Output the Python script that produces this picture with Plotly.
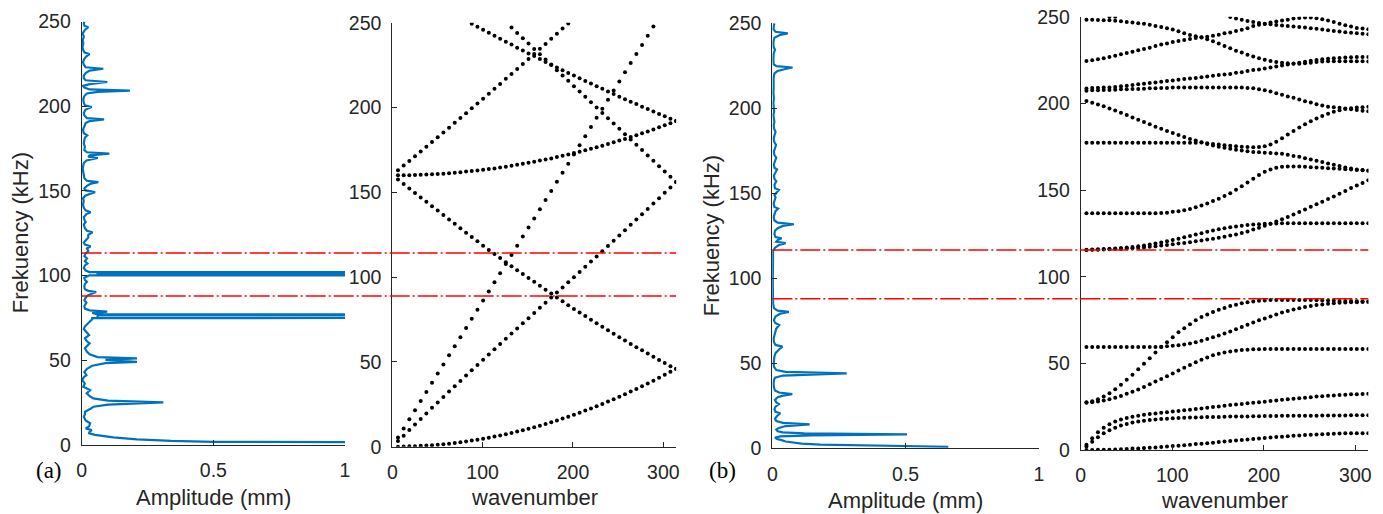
import plotly.graph_objects as go

# ---------------- response spectra (frequency in kHz, amplitude in mm) ----------------
FREQ_A = [1.3, 1.6, 1.9, 2.4, 3.3, 4.5, 5.3, 6.0, 6.9, 7.8, 8.8, 9.8, 11.0, 12.8, 14.5, 16.7,
          18.0, 19.6, 21.5, 22.6, 23.8, 25.2, 26.2, 27.5, 28.8, 30.5, 32.4, 34.4, 36.3, 38.3,
          40.0, 41.2, 43.0, 45.0, 46.8, 48.3, 49.1, 49.9, 50.3, 51.1, 51.9, 53.5, 55.0, 57.1,
          58.5, 60.0, 61.5, 63.0, 64.9, 66.9, 68.5, 69.9, 71.5, 72.8, 74.2, 74.95, 75.1, 75.25,
          76.85, 77.0, 77.15, 77.9, 78.7, 79.5, 80.5, 82.0, 84.0, 85.5, 87.0, 88.5, 89.5, 90.3,
          91.0, 92.0, 93.5, 95.0, 96.3, 97.5, 98.8, 99.6, 100.15, 100.3, 100.45, 101.75, 101.9,
          102.05, 103.0, 104.5, 106.0, 107.1, 108.5, 110.1, 111.5, 113.0, 114.5, 116.0, 117.3,
          118.3, 119.5, 121.0, 122.5, 124.0, 125.6, 126.5, 128.0, 130.0, 131.7, 133.0, 134.5,
          136.3, 137.4, 138.5, 140.0, 142.0, 144.0, 145.5, 147.0, 148.2, 149.3, 150.3, 151.5,
          153.0, 154.3, 155.2, 156.0, 157.5, 159.0, 161.0, 163.0, 165.0, 166.5, 168.0, 169.4,
          170.2, 171.0, 172.0, 172.8, 174.0, 176.0, 178.0, 180.0, 181.5, 182.8, 184.0, 186.0,
          188.0, 190.0, 191.2, 192.2, 193.0, 194.5, 196.0, 198.0, 199.5, 200.5, 202.0, 204.0,
          206.0, 207.5, 208.5, 209.2, 209.9, 211.0, 212.0, 213.0, 214.3, 215.3, 216.5, 218.0,
          219.5, 221.0, 222.1, 223.0, 224.5, 226.0, 228.0, 229.5, 230.7, 231.8, 233.5, 235.0,
          237.0, 239.0, 241.0, 243.0, 245.0, 246.6, 247.5, 248.5, 250.0]
AMP_A = [2.0, 1.0, 0.50, 0.34, 0.21, 0.12, 0.075, 0.050, 0.028, 0.030, 0.038, 0.015, 0.028, 0.032,
         0.015, 0.008, 0.012, 0.013, 0.035, 0.045, 0.100, 0.310, 0.100, 0.044, 0.030, 0.019,
         0.032, 0.006, 0.012, 0.002, 0.008, 0.018, 0.010, 0.020, 0.040, 0.090, 0.210, 0.090,
         0.090, 0.210, 0.060, 0.030, 0.020, 0.012, 0.020, 0.030, 0.018, 0.012, 0.028, 0.015,
         0.008, 0.012, 0.020, 0.030, 0.040, 0.040, 40.0, 0.060, 0.060, 40.0, 0.060, 0.040, 0.097,
         0.030, 0.012, 0.010, 0.018, 0.010, 0.015, 0.025, 0.040, 0.055, 0.025, 0.012, 0.010,
         0.012, 0.020, 0.012, 0.010, 0.020, 0.030, 40.0, 0.060, 0.060, 40.0, 0.030, 0.015, 0.008,
         0.012, 0.022, 0.012, 0.020, 0.010, 0.015, 0.025, 0.020, 0.034, 0.012, 0.008, 0.015,
         0.025, 0.025, 0.041, 0.020, 0.012, 0.008, 0.015, 0.010, 0.008, 0.018, 0.034, 0.015,
         0.008, 0.005, 0.008, 0.005, 0.012, 0.030, 0.051, 0.015, 0.010, 0.020, 0.035, 0.063,
         0.020, 0.010, 0.008, 0.005, 0.004, 0.006, 0.008, 0.018, 0.061, 0.025, 0.030, 0.105,
         0.020, 0.010, 0.012, 0.008, 0.010, 0.012, 0.021, 0.008, 0.005, 0.010, 0.015, 0.030,
         0.085, 0.020, 0.010, 0.008, 0.015, 0.038, 0.012, 0.008, 0.006, 0.010, 0.020, 0.060,
         0.183, 0.030, 0.010, 0.005, 0.030, 0.097, 0.015, 0.008, 0.008, 0.015, 0.030, 0.082,
         0.015, 0.008, 0.005, 0.010, 0.018, 0.030, 0.010, 0.005, 0.003, 0.006, 0.004, 0.008,
         0.004, 0.012, 0.025, 0.010, 0.008, 0.010]

FREQ_B = [0.9, 1.3, 1.7, 2.2, 2.8, 3.4, 4.0, 4.8, 5.5, 6.3, 7.0, 7.6, 8.2, 8.8, 9.4, 10.0, 11.0,
          12.0, 13.1, 14.1, 15.0, 16.0, 17.5, 19.0, 20.6, 21.5, 23.0, 24.5, 26.0, 27.0, 28.5,
          30.0, 31.0, 31.9, 32.8, 34.0, 36.0, 38.0, 40.0, 41.5, 42.8, 44.1, 45.0, 46.0, 48.0,
          50.0, 52.0, 54.0, 56.0, 57.5, 58.8, 59.8, 60.8, 62.5, 64.5, 66.5, 68.5, 70.5, 72.5,
          73.8, 75.5, 77.5, 79.2, 80.2, 81.0, 82.5, 85.0, 88.0, 92.0, 96.0, 100.0, 104.0, 108.0,
          112.0, 116.0, 118.0, 119.6, 120.7, 121.5, 122.5, 123.5, 124.3, 126.0, 128.0, 129.5,
          130.8, 131.8, 132.7, 134.0, 136.0, 138.0, 139.5, 141.0, 142.0, 144.0, 146.0, 147.5,
          149.0, 150.9, 152.0, 153.0, 155.0, 157.0, 158.5, 160.5, 162.0, 164.0, 165.0, 167.0,
          169.0, 171.0, 172.5, 174.5, 176.5, 178.5, 180.0, 182.0, 184.0, 186.0, 188.0, 190.0,
          192.0, 194.0, 196.0, 198.0, 200.0, 203.0, 206.0, 209.0, 212.0, 215.0, 218.0, 220.5,
          222.0, 223.0, 224.0, 224.8, 226.0, 229.0, 232.0, 234.5, 236.0, 239.0, 241.5, 243.2,
          244.1, 245.0, 246.5, 248.5, 250.0]
AMP_B = [0.66, 0.45, 0.30, 0.18, 0.11, 0.075, 0.050, 0.035, 0.018, 0.010, 0.030, 0.150, 0.505,
         0.120, 0.040, 0.020, 0.015, 0.025, 0.050, 0.140, 0.040, 0.015, 0.010, 0.018, 0.030,
         0.012, 0.008, 0.012, 0.025, 0.015, 0.010, 0.020, 0.040, 0.075, 0.025, 0.010, 0.006,
         0.005, 0.006, 0.010, 0.040, 0.279, 0.050, 0.015, 0.006, 0.005, 0.006, 0.008, 0.012,
         0.020, 0.030, 0.038, 0.012, 0.006, 0.005, 0.008, 0.012, 0.015, 0.026, 0.010, 0.006,
         0.012, 0.030, 0.062, 0.020, 0.006, 0.003, 0.002, 0.002, 0.002, 0.002, 0.002, 0.002,
         0.002, 0.003, 0.010, 0.025, 0.050, 0.015, 0.020, 0.035, 0.012, 0.008, 0.010, 0.020,
         0.040, 0.081, 0.020, 0.008, 0.005, 0.008, 0.012, 0.022, 0.008, 0.005, 0.008, 0.012,
         0.008, 0.018, 0.025, 0.010, 0.008, 0.015, 0.008, 0.006, 0.010, 0.018, 0.008, 0.006,
         0.010, 0.015, 0.008, 0.006, 0.010, 0.014, 0.008, 0.005, 0.008, 0.012, 0.007, 0.005,
         0.008, 0.006, 0.004, 0.007, 0.005, 0.004, 0.006, 0.004, 0.005, 0.004, 0.005, 0.008,
         0.020, 0.045, 0.076, 0.015, 0.005, 0.004, 0.005, 0.010, 0.005, 0.004, 0.008, 0.030,
         0.058, 0.012, 0.004, 0.006, 0.008]

# ---------------- dispersion branches, sampled at the wavenumber grid ----------------
WAVENUMBER = [6.28, 12.57, 18.85, 25.13, 31.42, 37.70, 43.98, 50.27, 56.55, 62.83,
              69.12, 75.40, 81.68, 87.96, 94.25, 100.53, 106.81, 113.10, 119.38, 125.66,
              131.95, 138.23, 144.51, 150.80, 157.08, 163.36, 169.65, 175.93, 182.21, 188.50,
              194.78, 201.06, 207.35, 213.63, 219.91, 226.19, 232.48, 238.76, 245.04, 251.33,
              257.61, 263.89, 270.18, 276.46, 282.74, 289.03, 295.31, 301.59, 307.88, 314.16]

# (a) uniform beam
A_FLEX = [0.0, 0.1, 0.2, 0.3, 0.5, 0.7, 0.9, 1.2, 1.5, 1.8, 2.2, 2.6, 3.1, 3.6, 4.1, 4.7, 5.3,
          6.0, 6.6, 7.4, 8.1, 8.9, 9.7, 10.6, 11.5, 12.4, 13.4, 14.4, 15.5, 16.6, 17.7, 18.9,
          20.0, 21.3, 22.5, 23.9, 25.2, 26.6, 28.0, 29.4, 30.9, 32.5, 34.0, 35.6, 37.3, 38.9,
          40.6, 42.4, 44.2, 46.0]
A_FLEX_FOLD = [157.5, 154.9, 152.3, 149.6, 147.0, 144.4, 141.8, 139.2, 136.6, 134.0, 131.4,
               128.8, 126.2, 123.6, 121.1, 118.5, 116.0, 113.6, 111.2, 108.8, 106.4, 104.1,
               101.8, 99.5, 97.2, 94.9, 92.6, 90.3, 88.0, 85.7, 83.4, 81.2, 79.1, 77.0, 74.9,
               72.8, 70.7, 68.6, 66.6, 64.6, 62.6, 60.6, 58.7, 56.8, 54.9, 53.0, 51.1, 49.3,
               47.5, 45.8]
A_LONG = [5.4, 10.8, 16.2, 21.5, 26.9, 32.3, 37.7, 43.1, 48.5, 53.9, 59.2, 64.6, 70.0, 75.4,
          80.8, 86.2, 91.5, 96.9, 102.3, 107.7, 113.1, 118.5, 123.9, 129.2, 134.6, 140.0,
          145.4, 150.8, 156.2, 161.6, 166.9, 172.3, 177.7, 183.1, 188.5, 193.9, 199.2, 204.6,
          210.0, 215.4, 220.8, 226.2, 231.6, 236.9, 242.3, 247.7] + [None] * 4
A_SHEAR = [3.3, 6.5, 9.8, 13.1, 16.4, 19.6, 22.9, 26.1, 29.3, 32.5, 35.7, 38.8, 42.0, 45.1,
           48.2, 51.3, 54.4, 57.5, 60.6, 63.6, 66.7, 69.7, 72.8, 75.8, 78.8, 81.9, 84.9, 87.9,
           90.9, 93.9, 96.9, 99.9, 103.0, 106.1, 109.2, 112.2, 115.3, 118.4, 121.4, 124.5,
           127.6, 130.8, 133.9, 137.1, 140.2, 143.4, 146.5, 149.7, 152.8, 156.0]
A_UPPER_RISE = [163.0, 165.8, 168.5, 171.3, 174.1, 176.9, 179.7, 182.5, 185.3, 188.1, 191.0,
                193.8, 196.6, 199.5, 202.4, 205.2, 208.1, 211.0, 213.9, 216.9, 219.8, 222.7,
                225.7, 228.6, 231.6, 234.6, 237.5, 240.5, 243.5, 246.6, 249.6] + [None] * 19
A_SHEAR_FOLD = [None] * 20 + [247.1, 244.0, 240.8, 237.7, 234.5, 231.4, 228.3, 225.1, 222.0,
                              218.8, 215.7, 212.5, 209.4, 206.3, 203.1, 200.0, 196.8, 193.7,
                              190.6, 187.4, 184.3, 181.1, 178.0, 174.9, 171.7, 168.6, 165.4,
                              162.3, 159.1, 156.0]
A_FLAT_160 = [160.0, 160.1, 160.1, 160.2, 160.3, 160.5, 160.6, 160.8, 161.0, 161.3, 161.5,
              161.8, 162.2, 162.5, 162.9, 163.3, 163.7, 164.1, 164.6, 165.1, 165.6, 166.2,
              166.8, 167.4, 168.0, 168.7, 169.3, 170.0, 170.8, 171.5, 172.3, 173.1, 173.9,
              174.8, 175.7, 176.6, 177.5, 178.5, 179.5, 180.5, 181.5, 182.6, 183.7, 184.8,
              185.9, 187.1, 188.3, 189.5, 190.7, 192.0]
A_UPPER_FOLD = [None] * 13 + [249.4, 247.6, 245.8, 244.1, 242.3, 240.5, 238.8, 237.1, 235.3,
                              233.6, 231.9, 230.3, 228.6, 226.9, 225.3, 223.6, 222.0, 220.4,
                              218.8, 217.2, 215.6, 214.1, 212.5, 211.0, 209.4, 207.9, 206.4,
                              204.9, 203.4, 202.0, 200.5, 199.1, 197.6, 196.2, 194.8, 193.4,
                              192.0]

# (b) periodic beam
B_BAND1 = [0.0, 0.0, 0.1, 0.2, 0.2, 0.3, 0.5, 0.6, 0.8, 0.9, 1.1, 1.3, 1.5, 1.8, 2.0, 2.3,
           2.5, 2.8, 3.1, 3.4, 3.6, 3.9, 4.2, 4.6, 4.9, 5.2, 5.5, 5.8, 6.1, 6.4, 6.6, 6.9, 7.2,
           7.5, 7.7, 7.9, 8.2, 8.4, 8.6, 8.8, 9.0, 9.1, 9.2, 9.4, 9.5, 9.6, 9.6, 9.7, 9.7, 9.7]
B_BAND2 = [2.0, 4.8, 7.4, 9.6, 11.4, 12.9, 14.1, 15.0, 15.8, 16.4, 16.9, 17.3, 17.6, 17.9,
           18.1, 18.3, 18.5, 18.6, 18.7, 18.8, 18.9, 19.0, 19.1, 19.1, 19.2, 19.3, 19.3, 19.4,
           19.4, 19.5, 19.5, 19.6, 19.6, 19.6, 19.7, 19.7, 19.7, 19.8, 19.8, 19.8, 19.8, 19.9,
           19.9, 19.9, 19.9, 19.9, 20.0, 20.0, 20.0, 20.0]
B_BAND3 = [3.0, 6.8, 10.2, 12.9, 14.9, 16.4, 17.6, 18.5, 19.2, 19.8, 20.3, 20.7, 21.1, 21.5,
           21.8, 22.2, 22.5, 22.9, 23.2, 23.6, 24.0, 24.4, 24.8, 25.1, 25.5, 25.9, 26.3, 26.6,
           27.0, 27.3, 27.6, 27.9, 28.3, 28.6, 29.0, 29.3, 29.6, 29.9, 30.2, 30.5, 30.8, 31.0,
           31.3, 31.5, 31.7, 31.9, 32.1, 32.2, 32.3, 32.4]
B_BAND4 = [27.2, 27.6, 28.0, 28.5, 29.3, 30.2, 31.2, 32.4, 33.6, 34.9, 36.4, 37.9, 39.5, 41.0,
           42.6, 44.1, 45.8, 47.4, 49.1, 50.7, 52.0, 53.4, 54.6, 55.5, 56.3, 56.9, 57.3, 57.7,
           57.9, 58.1, 58.2, 58.3, 58.3, 58.3, 58.3, 58.3, 58.3, 58.3, 58.3, 58.3, 58.3, 58.3,
           58.3, 58.3, 58.3, 58.3, 58.3, 58.3, 58.3, 58.3]
B_BAND5 = [27.6, 28.1, 29.3, 30.8, 32.7, 35.0, 37.6, 40.5, 43.4, 46.6, 49.8, 53.0, 56.3, 59.4,
           62.1, 65.1, 68.0, 70.3, 72.6, 74.8, 76.7, 78.2, 79.6, 80.9, 81.9, 83.1, 83.8, 84.6,
           85.2, 85.7, 86.1, 86.3, 86.5, 86.5, 86.5, 86.5, 86.5, 86.5, 86.5, 86.5, 86.4, 86.3,
           86.2, 86.1, 86.0, 85.9, 85.9, 85.8, 85.8, 85.7]
B_BAND6 = [59.4, 59.4, 59.4, 59.4, 59.4, 59.4, 59.4, 59.4, 59.4, 59.4, 59.4, 59.4, 59.4, 59.6,
           59.8, 60.1, 60.5, 60.9, 61.4, 62.2, 63.1, 64.0, 65.0, 66.0, 67.2, 68.4, 69.7, 71.0,
           72.3, 73.6, 74.8, 75.9, 77.0, 78.2, 79.3, 80.2, 81.0, 81.8, 82.5, 83.1, 83.6, 84.0,
           84.4, 84.7, 84.9, 85.1, 85.2, 85.3, 85.4, 85.4]
B_BAND7 = [115.6, 115.7, 115.8, 115.9, 116.1, 116.3, 116.5, 116.8, 117.1, 117.5, 118.0, 118.5,
           119.1, 119.7, 120.4, 121.1, 121.9, 122.7, 123.5, 124.3, 125.1, 125.9, 126.6, 127.3,
           127.9, 128.5, 129.0, 129.4, 129.8, 130.1, 130.3, 130.5, 130.6, 130.7, 130.8, 130.8,
           130.8, 130.8, 130.8, 130.8, 130.8, 130.8, 130.8, 130.8, 130.8, 130.8, 130.8, 130.8,
           130.8, 130.8]
B_BAND8 = [115.4, 115.5, 115.6, 115.7, 115.8, 115.9, 116.0, 116.2, 116.4, 116.6, 116.9, 117.3,
           117.6, 118.0, 118.3, 118.7, 119.1, 119.5, 119.9, 120.4, 120.9, 121.4, 121.9, 122.5,
           123.1, 123.7, 124.4, 125.2, 126.1, 127.2, 128.2, 129.4, 130.6, 131.8, 133.1, 134.5,
           135.9, 137.3, 138.8, 140.3, 141.8, 143.3, 144.8, 146.3, 147.9, 149.5, 151.1, 152.6,
           154.1, 155.6]
B_BAND9 = [136.6, 136.6, 136.6, 136.6, 136.6, 136.6, 136.6, 136.6, 136.6, 136.6, 136.6, 136.6,
           136.6, 136.7, 136.9, 137.4, 137.8, 138.4, 139.1, 140.1, 141.1, 142.2, 143.6, 144.9,
           146.5, 148.2, 150.1, 152.2, 154.4, 156.5, 158.6, 160.5, 161.8, 162.8, 163.4, 163.6,
           163.6, 163.6, 163.4, 163.2, 163.0, 162.8, 162.6, 162.4, 162.2, 162.0, 161.8, 161.6,
           161.4, 161.2]
B_BAND10 = [201.3, 200.4, 199.4, 198.3, 197.1, 195.9, 194.6, 193.3, 191.9, 190.6, 189.2, 187.9,
            186.5, 185.4, 184.0, 182.9, 181.7, 180.6, 179.4, 178.5, 177.5, 176.5, 175.7, 175.0,
            174.4, 173.8, 173.2, 172.8, 172.4, 172.0, 171.8, 171.5, 171.3, 171.1, 170.9, 170.3,
            169.7, 169.2, 168.4, 167.6, 166.9, 166.1, 165.3, 164.6, 163.8, 163.0, 162.4, 161.8,
            161.5, 161.1]
B_BAND11 = [177.3, 177.3, 177.3, 177.3, 177.3, 177.3, 177.3, 177.3, 177.3, 177.3, 177.3, 177.3,
            177.3, 177.3, 177.3, 177.3, 177.3, 177.3, 177.3, 177.3, 177.4, 177.0, 176.6, 176.2,
            175.9, 175.6, 175.3, 175.0, 174.8, 174.7, 174.8, 175.2, 176.3, 177.9, 179.9, 182.0,
            184.1, 186.1, 188.0, 189.7, 191.3, 192.7, 194.0, 195.1, 196.0, 196.7, 197.2, 197.6,
            197.8, 198.0]
B_BAND12 = [207.3, 207.5, 207.5, 207.7, 207.7, 207.9, 208.1, 208.1, 208.3, 208.3, 208.5, 208.7,
            208.7, 208.9, 208.9, 209.1, 209.1, 209.1, 209.2, 209.2, 209.2, 209.2, 209.2, 209.2,
            209.2, 209.2, 209.1, 209.1, 208.9, 208.7, 208.1, 207.5, 206.8, 205.8, 204.9, 203.9,
            203.2, 202.2, 201.2, 200.5, 199.5, 198.7, 198.1, 197.7, 197.4, 197.0, 196.6, 196.2,
            195.8, 195.4]
B_BAND13 = [208.6, 208.8, 209.0, 209.1, 209.2, 209.4, 209.8, 210.2, 210.6, 211.0, 211.3, 211.7,
            212.1, 212.5, 212.9, 213.2, 213.6, 214.0, 214.4, 214.7, 215.1, 215.5, 215.9, 216.3,
            216.7, 217.0, 217.6, 218.0, 218.6, 219.2, 219.5, 220.1, 220.7, 221.3, 221.9, 222.4,
            223.0, 223.4, 224.0, 224.6, 225.0, 225.4, 225.8, 226.0, 226.2, 226.4, 226.6, 226.7,
            226.8, 226.8]
B_BAND14 = [224.5, 224.9, 225.4, 226.0, 226.8, 227.4, 228.3, 229.1, 229.8, 230.6, 231.4, 232.1,
            233.1, 233.9, 234.6, 235.4, 236.0, 236.6, 237.1, 237.7, 238.1, 238.5, 239.0, 239.6,
            240.4, 240.9, 241.7, 242.5, 243.4, 244.7, 245.4, 246.0, 246.6, 247.2, 247.8, 248.3,
            248.9, 249.3, 249.5, 249.5, 249.1, 248.5, 247.8, 247.0, 246.0, 245.1, 244.3, 243.5,
            243.2, 242.8]
B_BAND15 = [248.3, 248.2, 248.1, 248.0, 247.9, 247.7, 247.4, 247.0, 246.6, 246.2, 245.9, 245.3,
            244.7, 244.1, 243.3, 242.6, 241.6, 240.5, 239.5, 238.7, 238.0, 237.0, 235.8, 234.5,
            233.1, 231.8, 230.4, 229.3, 228.1, 227.0, 226.0, 225.2, 224.5, 223.9, 223.5, 223.1,
            222.9, 222.9, 223.1, 223.5, 223.9, 224.1, 224.3, 224.3, 224.3, 224.3, 224.3, 224.3,
            224.3, 224.1]
B_BAND16 = [None] * 25 + [249.8, 249.0, 248.2, 247.5, 246.9, 246.3, 245.8, 245.6, 245.2, 244.9,
                          244.6, 244.3, 244.0, 243.7, 243.4, 243.0, 242.6, 242.2, 241.8, 241.4,
                          241.0, 240.7, 240.4, 240.1, 239.9]
B_BAND17 = [None] * 4 + [249.9, 250.0] + [None] * 44

# stop-band limits marked on each spectrum (kHz)
GAP_A = [88.0, 113.4]
GAP_B = [88.0, 116.6]

# ---------------- figure ----------------
W, H = 1383, 514
INK = "#262626"
BLUE = "#0072BD"
SANS = "Liberation Sans, Arial, sans-serif"


def fx(px):
    return px / W


def fy(px):
    return 1 - px / H


fig = go.Figure()

for xa, ya, f, a in (("x", "y", FREQ_A, AMP_A), ("x3", "y3", FREQ_B, AMP_B)):
    fig.add_trace(go.Scatter(x=a, y=f, mode="lines", xaxis=xa, yaxis=ya,
                             line=dict(color=BLUE, width=2.2), showlegend=False,
                             hoverinfo="skip"))

branches_a = [A_FLEX, A_FLEX_FOLD, A_LONG, A_SHEAR, A_UPPER_RISE, A_SHEAR_FOLD,
              A_FLAT_160, A_UPPER_FOLD]
branches_b = [B_BAND1, B_BAND2, B_BAND3, B_BAND4, B_BAND5, B_BAND6, B_BAND7, B_BAND8,
              B_BAND9, B_BAND10, B_BAND11, B_BAND12, B_BAND13, B_BAND14, B_BAND15,
              B_BAND16, B_BAND17]

for xa, ya, group in (("x2", "y2", branches_a), ("x4", "y4", branches_b)):
    for br in group:
        fig.add_trace(go.Scatter(x=WAVENUMBER, y=br, mode="markers", xaxis=xa, yaxis=ya,
                                 marker=dict(color="black", size=4, line=dict(width=0)),
                                 showlegend=False, hoverinfo="skip"))

axis_common = dict(showline=True, linecolor=INK, linewidth=1, ticks="inside", ticklen=5,
                   tickcolor=INK, tickwidth=1, showgrid=False, zeroline=False,
                   automargin=False, tickfont=dict(family=SANS, size=19.5, color=INK))
yticks = dict(range=[0, 250], tickvals=[0, 50, 100, 150, 200, 250], ticklabelstandoff=6)
amp_x = dict(range=[0, 1], tickvals=[0, 0.5, 1], ticktext=["0", "0.5", "1"],
             ticklabelstandoff=8)
k_x = dict(range=[0, 314.16], tickvals=[0, 100, 200, 300], ticklabelstandoff=8)

fig.update_layout(
    width=W, height=H, margin=dict(l=0, r=0, t=0, b=0, pad=0), autosize=False,
    paper_bgcolor="white", plot_bgcolor="white",
    xaxis=dict(domain=[fx(81.7), fx(345)], anchor="y", **amp_x, **axis_common),
    yaxis=dict(domain=[fy(445), fy(21.5)], anchor="x", **yticks, **axis_common),
    xaxis2=dict(domain=[fx(392.3), fx(676.1)], anchor="y2", **k_x, **axis_common),
    yaxis2=dict(domain=[fy(446.7), fy(22.7)], anchor="x2", **yticks, **axis_common),
    xaxis3=dict(domain=[fx(772.3), fx(1039)], anchor="y3", **amp_x, **axis_common),
    yaxis3=dict(domain=[fy(448.3), fy(23.3)], anchor="x3", **yticks, **axis_common),
    xaxis4=dict(domain=[fx(1080.7), fx(1368.3)], anchor="y4", **k_x, **axis_common),
    yaxis4=dict(domain=[fy(450), fy(16.7)], anchor="x4", **yticks, **axis_common),
)

# stop-band markers spanning spectrum and dispersion panels
shapes = []
for yref, levels, x0, x1 in (("y", GAP_A, 81.7, 676.1), ("y3", GAP_B, 772.3, 1368.3)):
    for lv in levels:
        shapes.append(dict(type="line", xref="paper", yref=yref, x0=fx(x0), x1=fx(x1),
                           y0=lv, y1=lv, layer="above",
                           line=dict(color="#FF0000", width=1.5, dash="20px,3px,2px,3px")))
fig.update_layout(shapes=shapes)

title_font = dict(family=SANS, size=22, color=INK)
notes = [
    dict(text="Frekuency (kHz)", x=fx(20), y=fy(233.3), textangle=-90, font=title_font),
    dict(text="Frekuency (kHz)", x=fx(711.5), y=fy(235.7), textangle=-90, font=title_font),
    dict(text="Amplitude (mm)", x=fx(213.4), y=fy(497), font=title_font),
    dict(text="wavenumber", x=fx(534.2), y=fy(497.5), font=title_font),
    dict(text="Amplitude (mm)", x=fx(905.7), y=fy(500), font=title_font),
    dict(text="wavenumber", x=fx(1224.5), y=fy(500), font=title_font),
    dict(text="(a)", x=fx(49), y=fy(470),
         font=dict(family="Liberation Serif, Times New Roman, serif", size=23, color="black")),
    dict(text="(b)", x=fx(722), y=fy(470),
         font=dict(family="Liberation Serif, Times New Roman, serif", size=23, color="black")),
]
for n in notes:
    fig.add_annotation(xref="paper", yref="paper", showarrow=False,
                       xanchor="center", yanchor="middle", **n)

fig.write_html("out.html")
